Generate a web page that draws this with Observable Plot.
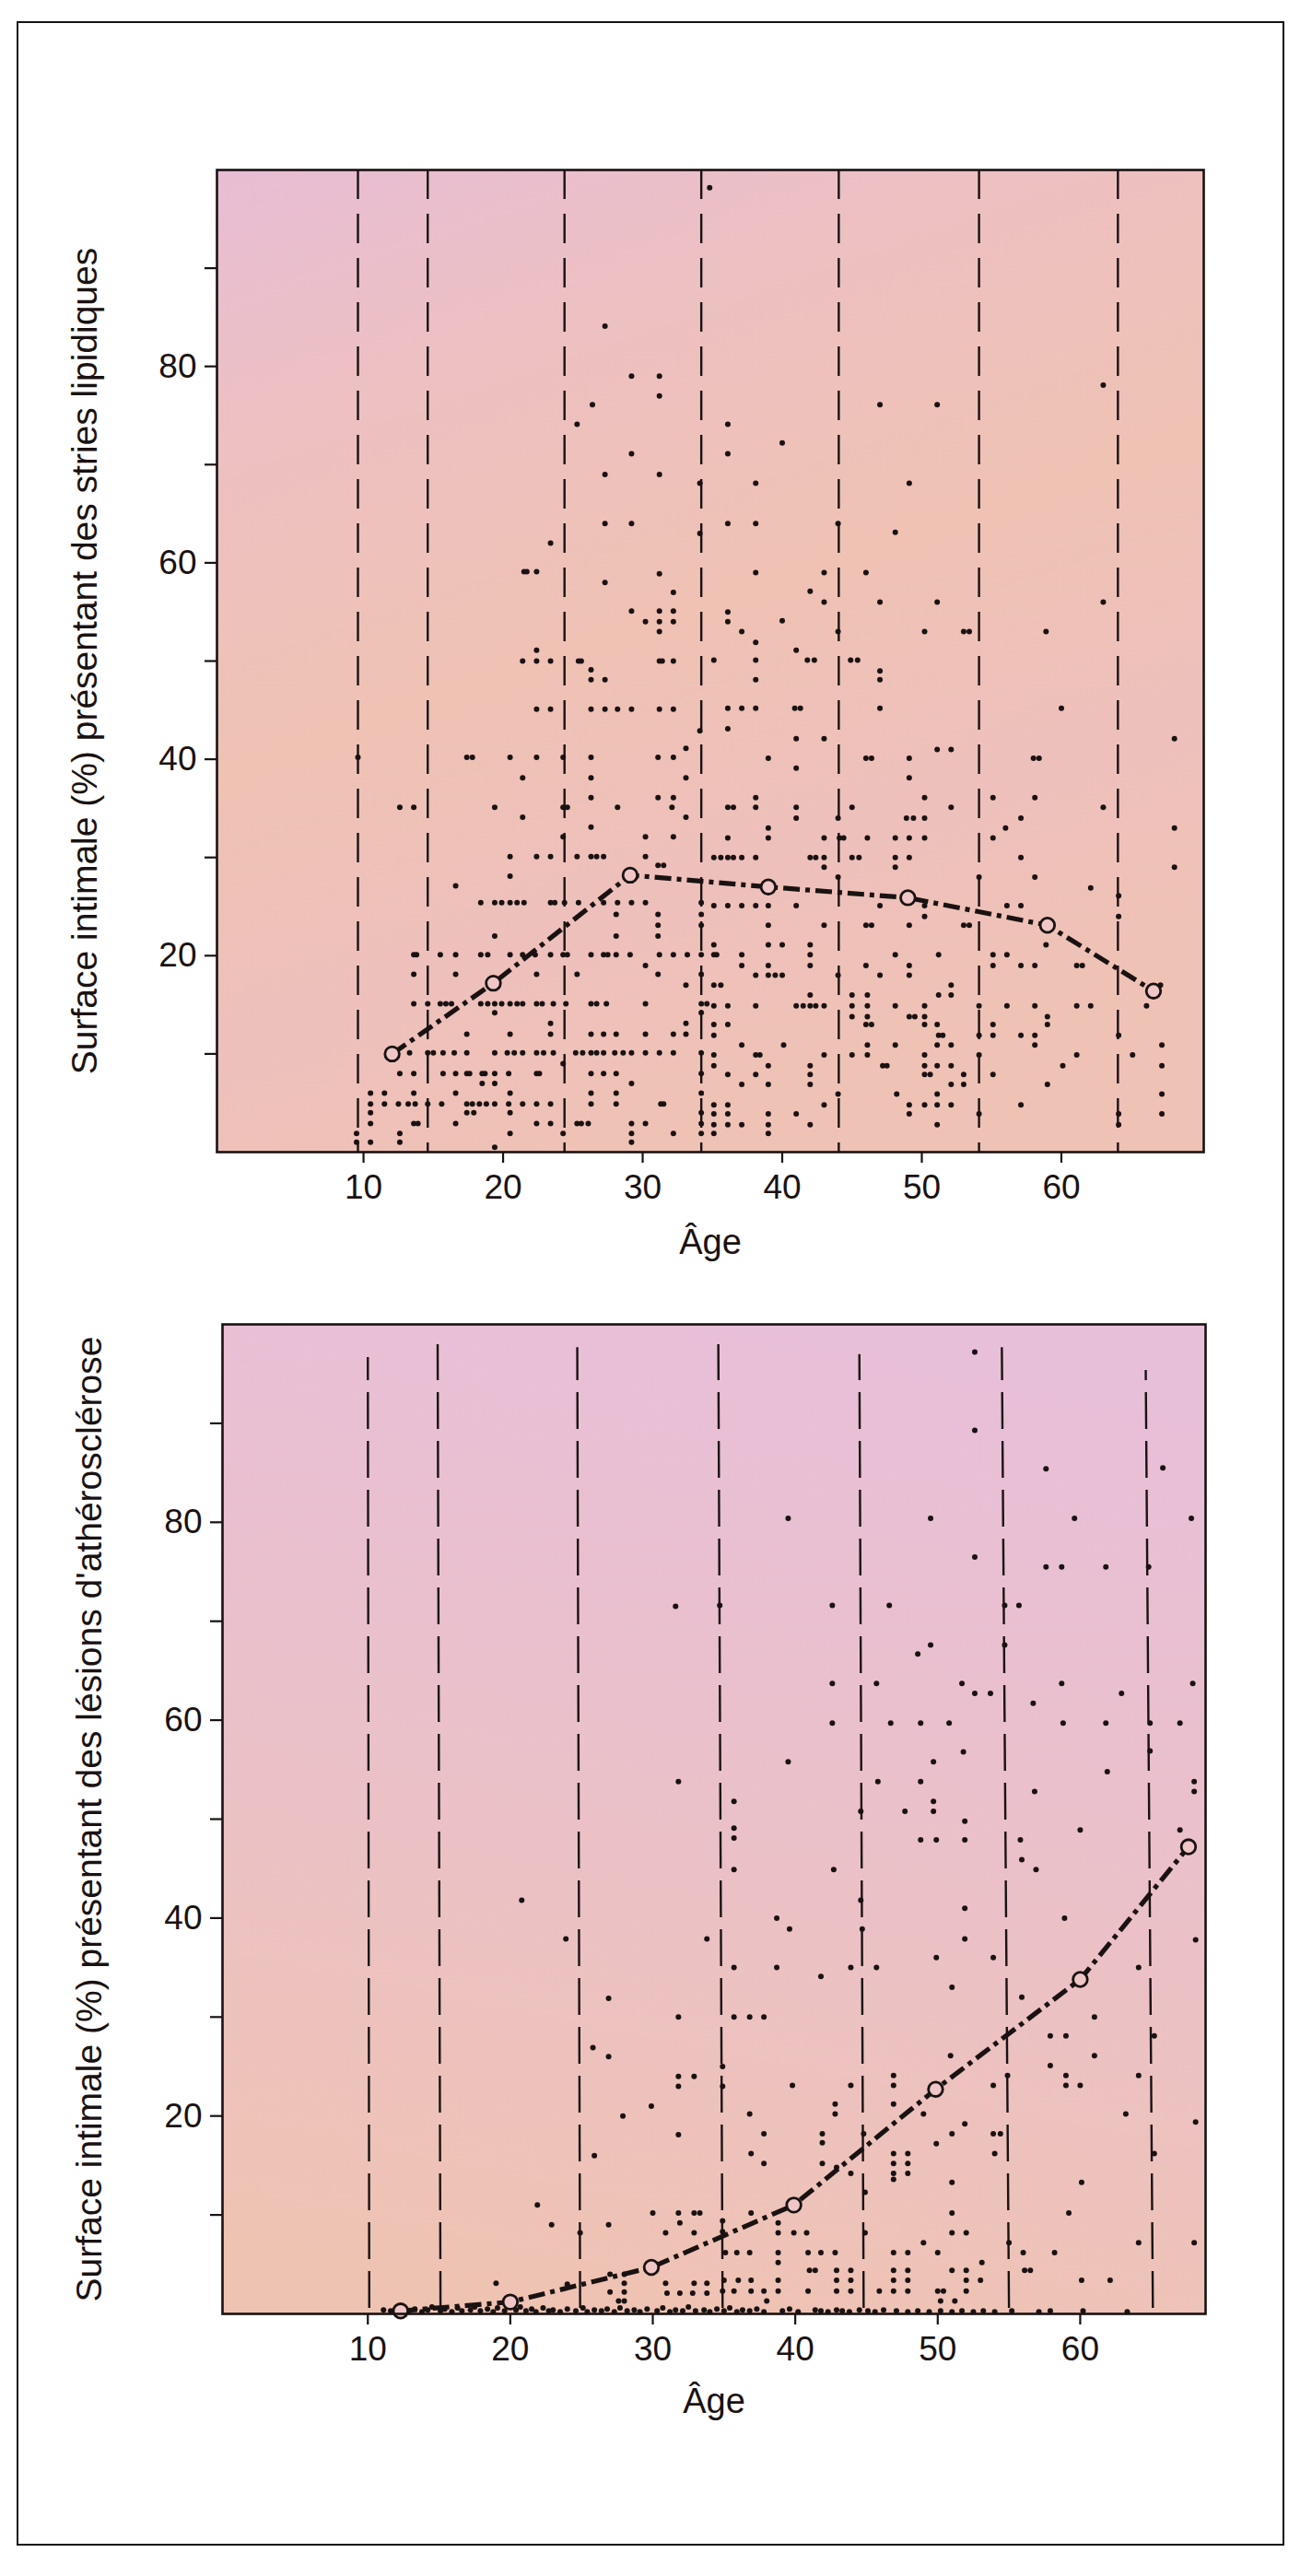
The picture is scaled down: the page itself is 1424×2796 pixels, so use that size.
<!DOCTYPE html>
<html lang="fr">
<head>
<meta charset="utf-8">
<script src="https://cdn.jsdelivr.net/npm/d3@7"></script>
<script src="https://cdn.jsdelivr.net/npm/@observablehq/plot@0.6"></script>
<style>
  html, body { margin: 0; padding: 0; background: #ffffff; }
  #page { position: relative; width: 1424px; height: 2796px; background: #ffffff; }
  #border { position: absolute; left: 18px; top: 23px; width: 1376px; height: 2740px; box-sizing: border-box; border: 2.5px solid #141010; }
  .panel { position: absolute; left: 0; }
</style>
</head>
<body>
<div id="page"><div id="border"></div></div>
<script>
// ---------- DATA ----------
const ageTicks = [10, 20, 30, 40, 50, 60];
const valueTicks = [10, 20, 30, 40, 50, 60, 70, 80, 90];
const labelTop = "Surface intimale (%) présentant des stries lipidiques";
const labelBottom = "Surface intimale (%) présentant des lésions d'athérosclérose";
const labelAge = "Âge";

// group boundaries (dashed verticals)
const topBounds = [9.6, 14.6, 24.4, 34.2, 44.05, 54.1, 64.05];
const bottomBoundsLow = [10.1, 15.1, 24.9, 34.9, 44.8, 55.0, 65.1];
const bottomBoundsHigh = [10.0, 14.9, 24.7, 34.6, 44.5, 54.5, 64.6];
const bottomBoundsTop = [96.7, 98.0, 97.7, 98.0, 97.0, 97.7, 95.4];

// group means (open circles)
const topMeanAge = [12.05, 19.3, 29.1, 39.0, 49.0, 59.0, 66.6];
const topMeanValue = [10.0, 17.2, 28.2, 27.0, 25.9, 23.1, 16.4];
const bottomMeanAge = [12.3, 20.0, 29.9, 39.9, 49.85, 60.0, 67.6];
const bottomMeanValue = [0.3, 1.2, 4.7, 11.0, 22.7, 33.8, 47.2];

// individual cases, stries lipidiques: [age, %]
const topPoints = [
 [34.8,98.2],[27.3,84.1],
 [29.2,79.0],[31.2,79.0],[31.2,77.0],[26.4,76.1],[25.3,74.1],[29.2,71.1],[27.3,69.0],[31.2,69.0],
 [34.1,68.1],[27.3,64.0],[29.2,64.0],[34.1,63.0],[23.4,62.0],[21.5,59.1],[21.7,59.1],[22.4,59.1],
 [31.2,58.9],[27.3,58.0],[32.2,57.0],[29.2,55.1],[31.2,55.1],[32.2,55.1],[30.2,54.0],[31.2,54.0],[32.2,54.0],
 [31.2,53.0],[22.4,51.1],[21.4,50.0],[22.4,50.0],[23.4,50.0],[25.4,50.0],[25.6,50.0],[31.2,50.0],[31.4,50.0],[32.2,50.0],
 [26.3,49.1],[26.3,48.1],[27.3,48.1],
 [22.4,45.1],[23.4,45.1],[26.3,45.1],[27.3,45.1],[28.2,45.1],[29.2,45.1],[31.2,45.1],[32.2,45.1],
 [34.1,42.9],[33.1,41.1],
 [9.6,40.2],[17.4,40.2],[17.8,40.2],[20.5,40.2],[22.4,40.2],[24.3,40.2],[26.3,40.2],[31.1,40.2],[32.2,40.2],
 [21.4,38.1],[26.3,38.1],[33.1,38.1],[26.3,36.1],[31.1,36.1],[32.2,36.1],
 [12.6,35.1],[13.6,35.1],[19.4,35.1],[24.3,35.1],[24.6,35.1],[28.2,35.1],[32.1,35.1],
 [21.4,34.1],[33.1,34.1],[26.3,33.1],
 [24.3,32.1],[30.2,32.1],[32.2,32.1],
 [20.5,30.1],[22.4,30.1],[23.4,30.1],[25.3,30.1],[26.3,30.1],[26.7,30.1],[27.2,30.1],[30.2,30.1],
 [31.1,29.2],[31.5,29.2],[20.5,28.1],[16.6,27.1],
 [18.4,25.4],[19.4,25.4],[19.9,25.4],[20.5,25.4],[21.0,25.4],[21.5,25.4],[23.4,25.4],[23.7,25.4],[24.4,25.4],
 [25.4,25.4],[27.2,25.4],[28.2,25.4],[29.2,25.4],[30.2,25.4],[34.2,25.4],
 [28.1,24.2],[31.1,24.2],[34.2,24.2],[31.1,23.1],[34.2,23.1],[19.4,22.0],[28.1,22.0],[31.1,22.0],
 [13.6,20.1],[13.8,20.1],[15.5,20.1],[16.6,20.1],[18.4,20.1],[18.9,20.1],[20.5,20.1],[21.4,20.1],[22.3,20.1],
 [23.4,20.1],[24.3,20.1],[24.6,20.1],[26.3,20.1],[27.2,20.1],[27.5,20.1],[28.1,20.1],[29.1,20.1],[31.2,20.1],
 [32.2,20.1],[33.2,20.1],[34.2,20.1],
 [30.2,19.0],[13.6,18.1],[16.6,18.1],[22.4,18.1],[25.3,18.1],[31.1,18.1],[34.2,18.1],[33.1,17.0],
 [13.6,15.1],[14.6,15.1],[15.5,15.1],[15.9,15.1],[16.3,15.1],[18.4,15.1],[18.9,15.1],[19.4,15.1],[19.9,15.1],
 [20.5,15.1],[21.0,15.1],[21.4,15.1],[22.4,15.1],[22.8,15.1],[23.6,15.1],[24.5,15.1],[26.3,15.1],[26.7,15.1],
 [27.4,15.1],[30.2,15.1],[34.2,15.1],[34.6,15.1],
 [19.4,14.2],[34.2,14.2],[23.4,13.1],[33.1,13.1],
 [17.4,12.0],[20.5,12.0],[23.4,12.0],[26.3,12.0],[27.2,12.0],[28.1,12.0],[30.2,12.0],[32.2,12.0],[33.1,12.0],
 [13.3,10.1],[14.6,10.1],[15.0,10.1],[15.7,10.1],[16.5,10.1],[17.4,10.1],[19.4,10.1],[20.3,10.1],
 [20.8,10.1],[21.4,10.1],[22.4,10.1],[22.9,10.1],[23.6,10.1],[25.2,10.1],[25.7,10.1],[26.3,10.1],[26.7,10.1],
 [27.2,10.1],[28.0,10.1],[28.6,10.1],[29.2,10.1],[30.2,10.1],[31.2,10.1],[32.2,10.1],[34.2,10.1],
 [24.3,9.0],
 [12.6,8.0],[13.6,8.0],[15.7,8.0],[16.6,8.0],[17.4,8.0],[17.6,8.0],[18.5,8.0],[18.7,8.0],[19.4,8.0],[20.4,8.0],
 [22.4,8.0],[22.6,8.0],[26.3,8.0],[27.2,8.0],[28.1,8.0],[34.2,8.0],
 [18.5,7.0],[19.4,7.0],[29.2,7.0],
 [10.5,6.0],[11.5,6.0],[13.6,6.0],[16.6,6.0],[20.5,6.0],[26.3,6.0],[28.1,6.0],[34.2,6.0],
 [10.5,4.9],[11.5,4.9],[12.5,4.9],[13.2,4.9],[13.7,4.9],[14.6,4.9],[15.6,4.9],[17.4,4.9],[17.8,4.9],[18.3,4.9],
 [18.8,4.9],[19.4,4.9],[20.4,4.9],[21.4,4.9],[22.4,4.9],[23.4,4.9],[26.3,4.9],[28.1,4.9],[31.3,4.9],[31.5,4.9],
 [10.5,4.0],[17.4,4.0],[17.9,4.0],[20.5,4.0],[34.2,4.0],
 [10.5,2.9],[13.6,2.9],[13.9,2.9],[16.6,2.9],[22.4,2.9],[23.4,2.9],[25.3,2.9],[25.6,2.9],[26.1,2.9],[29.2,2.9],
 [30.2,2.9],[34.2,2.9],
 [9.5,1.9],[12.6,1.9],[20.5,1.9],[24.3,1.9],[29.2,1.9],[32.2,1.9],[34.2,1.9],
 [9.5,1.0],[10.5,1.0],[12.6,1.0],[29.2,1.0],[19.4,0.5],
 // ages 35-70
 [63.0,78.1],[47.0,76.1],[51.1,76.1],[36.1,74.1],[40.0,72.2],[36.1,71.1],[38.1,68.1],[49.1,68.1],
 [36.1,64.0],[38.1,64.0],[44.0,64.0],[48.1,63.1],[38.1,59.0],[43.0,59.0],[46.0,59.0],[42.0,57.1],
 [43.0,56.0],[47.0,56.0],[51.1,56.0],[63.0,56.0],[36.1,55.0],[36.1,54.0],[40.0,54.1],
 [37.1,53.0],[44.0,53.0],[50.2,53.0],[53.0,53.0],[53.4,53.0],[58.9,53.0],[38.1,51.9],[41.0,51.1],
 [35.1,50.1],[38.1,50.1],[41.8,50.1],[42.3,50.1],[44.9,50.1],[45.4,50.1],[47.0,49.0],[38.1,48.1],[47.0,48.1],
 [36.1,45.2],[37.1,45.2],[38.1,45.2],[40.9,45.2],[41.3,45.2],[47.0,45.2],[60.0,45.2],[36.1,43.1],
 [41.0,42.1],[43.0,42.1],[68.1,42.1],[51.1,41.0],[52.1,41.0],
 [39.0,40.1],[46.0,40.1],[46.4,40.1],[49.1,40.1],[58.0,40.1],[58.4,40.1],[41.0,39.1],[49.1,38.1],
 [38.1,36.1],[50.2,36.1],[55.1,36.1],[58.1,36.1],
 [36.1,35.1],[36.5,35.1],[38.1,35.1],[41.0,35.1],[45.0,35.1],[52.1,35.1],[63.0,35.1],
 [41.0,34.0],[44.0,34.0],[48.9,34.0],[49.4,34.0],[50.2,34.0],[57.1,34.0],[39.0,33.0],[56.0,33.0],[68.1,33.0],
 [36.1,32.0],[39.0,32.0],[43.0,32.0],[44.1,32.0],[44.4,32.0],[46.1,32.0],[48.1,32.0],[49.1,32.0],[50.2,32.0],[55.1,32.0],
 [35.1,30.0],[35.6,30.0],[36.1,30.0],[36.5,30.0],[37.1,30.0],[38.1,30.0],[42.0,30.0],[42.4,30.0],[43.0,30.0],
 [45.0,30.0],[45.5,30.0],[48.1,30.0],[49.1,30.0],[57.1,30.0],
 [43.0,29.0],[48.1,29.0],[68.1,29.0],[44.0,28.0],[54.1,28.0],[58.1,28.0],[62.1,26.9],[64.1,26.1],
 [35.1,25.1],[36.1,25.1],[37.1,25.1],[38.1,25.1],[39.0,25.1],[41.0,25.1],[47.0,25.1],[50.2,25.1],[56.1,25.1],[57.1,25.1],
 [50.2,24.0],[64.1,24.0],
 [39.0,23.1],[43.0,23.1],[46.0,23.1],[46.4,23.1],[49.1,23.1],[53.0,23.1],[53.4,23.1],
 [35.1,21.1],[39.0,21.1],[40.0,21.1],[42.0,21.1],[58.9,21.1],
 [35.1,20.1],[35.3,20.1],[37.1,20.1],[42.0,20.1],[48.1,20.1],[51.2,20.1],[55.1,20.1],[56.1,20.1],
 [37.1,19.0],[39.0,19.0],[42.0,19.0],[46.0,19.0],[49.1,19.0],[55.1,19.0],[57.1,19.0],[58.1,19.0],[61.1,19.0],[61.5,19.0],
 [38.1,18.0],[39.0,18.0],[39.5,18.0],[40.0,18.0],[44.0,18.0],[47.0,18.0],[49.1,18.0],
 [35.1,17.0],[35.6,17.0],[52.1,17.0],[67.1,17.0],[42.0,16.0],[45.0,16.0],[46.1,16.0],[51.2,16.0],[52.1,16.0],
 [35.1,14.9],[36.1,14.9],[38.1,14.9],[41.0,14.9],[41.5,14.9],[42.0,14.9],[42.4,14.9],[43.0,14.9],[45.0,14.9],
 [46.1,14.9],[48.1,14.9],[50.2,14.9],[54.1,14.9],[56.1,14.9],[58.1,14.9],[61.1,14.9],[62.1,14.9],[66.1,14.9],
 [45.0,13.8],[46.1,13.8],[49.1,13.8],[49.5,13.8],[50.2,13.8],[59.0,13.8],
 [35.1,13.0],[36.1,13.0],[46.0,13.0],[46.4,13.0],[50.2,13.0],[51.1,13.0],[55.1,13.0],[59.0,13.0],
 [35.1,11.9],[51.2,11.9],[51.5,11.9],[54.1,11.9],[55.1,11.9],[57.1,11.9],[58.1,11.9],[64.1,11.9],
 [37.1,10.9],[40.1,10.9],[46.1,10.9],[48.1,10.9],[51.1,10.9],[52.1,10.9],[58.1,10.9],[67.2,10.9],
 [35.1,9.9],[38.1,9.9],[38.4,9.9],[43.0,9.9],[45.0,9.9],[46.1,9.9],[50.2,9.9],[54.1,9.9],[61.1,9.9],[65.1,9.9],
 [35.1,8.8],[39.0,8.8],[42.0,8.8],[47.2,8.8],[47.5,8.8],[50.2,8.8],[51.1,8.8],[52.1,8.8],[60.1,8.8],[67.2,8.8],
 [36.1,7.9],[38.1,7.9],[42.0,7.9],[50.2,7.9],[50.6,7.9],[53.0,7.9],[55.1,7.9],
 [37.1,6.9],[39.0,6.9],[42.0,6.9],[52.1,6.9],[53.0,6.9],[59.0,6.9],
 [44.0,5.9],[48.2,5.9],[51.1,5.9],[67.2,5.9],
 [35.1,4.8],[36.1,4.8],[43.0,4.8],[49.1,4.8],[50.2,4.8],[51.1,4.8],[52.1,4.8],[57.1,4.8],
 [35.1,3.9],[36.1,3.9],[39.0,3.9],[41.0,3.9],[49.1,3.9],[54.1,3.9],[64.1,3.9],[67.2,3.9],
 [35.1,2.8],[36.1,2.8],[37.1,2.8],[39.0,2.8],[42.0,2.8],[51.1,2.8],[64.1,2.8],[35.1,1.9],[39.0,1.9]
];

// individual cases, lésions d'athérosclérose: [age, %]
const bottomPoints = [
 [31.6,71.5],[31.8,53.8],[20.8,41.8],[23.9,37.9],[33.8,37.9],[26.9,31.9],[31.8,30.0],[25.8,26.9],[26.9,26.0],
 [31.8,24.0],[32.9,24.0],[31.8,23.0],[29.9,21.0],[27.9,20.0],[31.8,18.1],[25.9,16.0],[21.9,11.0],
 [22.9,9.0],[26.9,9.0],[24.9,8.2],[30.0,10.2],[31.8,10.2],[32.9,10.2],[33.3,10.2],[30.9,8.2],[31.9,9.2],[32.9,8.2],
 [27.0,4.0],[28.0,4.0],[28.0,3.1],[19.0,3.1],[24.0,3.0],[30.9,3.1],[32.9,3.1],[33.8,3.1],
 [27.0,2.2],[28.0,2.2],[31.0,2.1],[31.9,2.1],[32.8,2.1],[33.8,2.1],[27.6,1.3],[28.0,1.3],
 [52.6,97.2],[52.6,89.3],[57.6,85.4],[65.8,85.5],[39.5,80.4],[49.5,80.4],[59.6,80.4],[67.8,80.4],[52.6,76.5],
 [57.6,75.5],[58.7,75.5],[61.8,75.5],[64.8,75.5],
 [34.7,71.6],[42.6,71.6],[46.6,71.6],[54.7,71.6],[55.7,71.6],[54.7,67.6],[48.6,66.7],[49.5,67.6],
 [42.6,63.7],[45.7,63.7],[51.7,63.7],[52.6,62.7],[53.7,62.7],[58.7,63.7],[62.9,62.7],[67.9,63.7],[56.7,61.7],
 [42.6,59.7],[46.7,59.7],[48.8,59.7],[50.8,59.7],[58.8,59.7],[61.8,59.7],[64.9,59.7],[67.0,59.7],
 [49.7,55.8],[51.8,56.8],[39.5,55.8],[64.9,56.9],[61.9,54.8],[68.0,53.8],[68.0,52.8],[45.8,53.8],[48.8,53.8],
 [35.7,51.8],[44.6,50.8],[47.7,50.8],[49.7,51.8],[49.7,50.8],[56.8,52.8],
 [35.7,49.1],[35.7,48.1],[51.9,49.8],[48.8,47.9],[49.9,47.9],[51.9,47.9],[60.0,48.9],[67.0,48.9],
 [35.7,44.9],[42.7,44.9],[55.8,47.9],[55.9,45.9],[56.9,44.9],[44.6,41.8],
 [38.7,40.0],[39.6,38.9],[58.9,40.0],[51.9,41.0],[51.9,37.9],[44.7,38.9],[68.1,37.8],
 [35.7,35.0],[38.7,35.0],[41.8,34.1],[43.9,35.0],[45.7,35.0],[49.9,36.0],[53.9,36.0],[64.1,35.0],
 [35.7,30.0],[36.8,30.0],[37.8,30.0],[51.0,33.0],[55.9,32.0],
 [61.0,30.0],[57.9,28.1],[59.0,28.1],[57.9,25.1],[59.0,24.1],[59.0,23.1],[60.0,23.1],[61.0,26.1],
 [34.9,25.0],[34.9,23.0],[39.8,23.1],[43.9,23.1],[46.9,24.1],[46.9,23.1],[46.9,21.2],[50.9,26.1],[53.9,23.1],
 [54.9,24.1],[64.1,24.1],[65.2,28.1],[68.1,19.4],
 [36.8,20.2],[42.8,21.2],[42.8,20.2],[49.0,20.2],[51.9,19.2],[53.9,18.2],[54.4,18.2],[63.2,20.2],
 [37.8,18.2],[41.9,18.2],[41.9,17.3],[44.8,18.2],[44.9,12.3],
 [36.9,16.2],[37.8,15.2],[41.9,15.2],[42.9,14.8],[43.9,14.2],
 [46.9,16.2],[47.9,16.2],[46.9,15.2],[47.9,15.2],[46.9,14.2],[47.9,14.2],[46.9,13.6],
 [51.0,18.2],[49.9,17.2],[51.0,13.3],[54.0,16.2],[60.1,13.3],[65.2,16.2],[59.2,10.2],[51.0,10.2],
 [34.9,9.4],[34.9,8.3],[36.9,10.2],[38.8,9.2],[38.8,8.2],[39.9,8.2],[40.8,8.2],[51.0,8.2],[52.0,8.2],[44.9,8.2],
 [49.0,7.2],[55.0,7.2],[64.1,7.2],[68.0,7.2],
 [35.1,6.2],[35.9,6.2],[36.8,6.2],[38.8,6.2],[40.9,6.2],[41.8,6.2],[42.8,6.2],[46.9,6.2],[47.9,6.2],[50.0,6.2],[56.0,6.2],[58.2,6.2],
 [38.8,5.2],[53.1,5.2],
 [41.0,4.4],[41.4,4.4],[42.9,4.4],[43.9,4.4],[46.9,4.4],[47.9,4.4],[51.0,4.4],[52.0,4.4],[56.1,4.4],[56.5,4.4],
 [35.0,3.4],[36.0,3.4],[36.9,3.4],[38.8,3.4],[42.9,3.4],[43.9,3.4],[46.9,3.4],[47.9,3.4],[53.0,3.4],[52.0,3.4],[60.1,3.4],[62.1,3.4],
 [34.9,2.3],[35.7,2.3],[36.9,2.3],[37.8,2.3],[38.8,2.3],[40.9,2.3],[42.9,2.3],[43.9,2.3],[45.9,2.3],[46.9,2.3],
 [47.9,2.3],[50.0,2.3],[50.4,2.3],[52.0,2.3],[38.0,1.3],[50.2,1.3],[51.2,1.3]
];

// cases with (almost) no lesion: the band along 0
const bottomZeroRow = [
 [11.1,0.4],[11.6,0.3],[12.0,0.6],[12.9,0.3],[13.3,0.5],[13.8,0.2],[14.2,0.4],[14.5,0.7],[15.1,0.3],[15.4,0.5],
 [15.9,0.2],[16.3,0.6],[16.6,0.3],[17.2,0.4],[17.5,0.7],[17.9,0.3],[18.4,0.5],[18.8,0.2],[19.1,0.6],[19.6,0.3],
 [20.4,0.4],[20.7,0.7],[21.1,0.3],[21.5,0.5],[21.8,0.2],[22.3,0.6],[22.7,0.3],[23.0,0.4],[23.5,0.2],[24.0,0.5],
 [24.6,0.3],[25.1,0.6],[25.4,0.2],[25.9,0.4],[26.4,0.3],[26.8,0.5],[27.3,0.2],[27.7,0.6],[28.2,0.3],[28.7,0.4],
 [29.1,0.2],[29.6,0.5],[30.3,0.3],[30.7,0.6],[31.2,0.2],[31.6,0.4],[32.1,0.3],[32.5,0.7],[33.0,0.3],[33.6,0.4],
 [34.0,0.2],[34.5,0.5],[35.0,0.3],[35.4,0.6],[35.9,0.2],[36.3,0.4],[36.8,0.3],[37.3,0.5],[37.8,0.2],
 [39.1,0.3],[39.6,0.5],[40.2,0.2],[41.4,0.4],[41.8,0.3],[42.3,0.2],[42.9,0.4],[43.3,0.3],[43.8,0.2],[44.5,0.4],
 [45.1,0.3],[45.6,0.2],[46.2,0.4],[47.1,0.3],[47.9,0.2],[48.6,0.3],[49.4,0.2],[50.2,0.3],[51.0,0.2],[51.7,0.3],
 [52.5,0.2],[53.2,0.3],[54.0,0.2],[55.2,0.3],[57.1,0.2],[57.9,0.3],[60.2,0.3],[63.3,0.2]
];

// ---------- DRAWING ----------
const INK = "#1a1212";
const ns = "http://www.w3.org/2000/svg";
function addGradient(svg, id, coords, stops) {
  const defs = document.createElementNS(ns, "defs");
  const g = document.createElementNS(ns, "linearGradient");
  g.setAttribute("id", id);
  for (const [k, v] of Object.entries(coords)) g.setAttribute(k, v);
  for (const [o, c] of stops) {
    const s = document.createElementNS(ns, "stop");
    s.setAttribute("offset", o);
    s.setAttribute("stop-color", c);
    g.appendChild(s);
  }
  defs.appendChild(g);
  svg.insertBefore(defs, svg.firstChild);
}

const svgStyle = "font-family: 'Liberation Sans', Arial, Helvetica, sans-serif; font-size: 37px; background: transparent; max-width: none; overflow: visible; color: #1a1212;";

function panel({top, height, marginTop, marginBottom, marginLeft, marginRight, xDomain, points, meanAge, meanValue, boundsMarks, yLabel, yLabelDx, ageDy, gradId}) {
  const meanData = meanAge.map((a, i) => ({age: a, value: meanValue[i]}));
  const svg = Plot.plot({
    width: 1424,
    height,
    marginTop, marginBottom, marginLeft, marginRight,
    style: svgStyle,
    x: {domain: xDomain},
    y: {domain: [0, 100]},
    marks: [
      Plot.frame({fill: `url(#${gradId})`, stroke: "none"}),
      ...boundsMarks,
      Plot.dot(points, {x: d => d[0], y: d => d[1], r: 3.0, fill: INK, stroke: "none"}),
      Plot.line(meanData, {x: "age", y: "value", stroke: INK, strokeWidth: 5.2, strokeDasharray: "18,6,5,6", strokeLinecap: "butt"}),
      Plot.dot(meanData, {x: "age", y: "value", r: 7.8, fill: "#f0c6c6", stroke: INK, strokeWidth: 2.8}),
      Plot.frame({stroke: INK, strokeWidth: 2.6}),
      Plot.axisX({ticks: ageTicks, tickSize: 12, tickPadding: 12, strokeWidth: 2.2, label: null, tickFormat: d => String(d)}),
      Plot.axisY({ticks: valueTicks, tickSize: 13, tickPadding: 9, strokeWidth: 2.2, label: null, tickFormat: d => (d % 20 === 0 ? String(d) : "")}),
      Plot.text([yLabel], {text: d => d, frameAnchor: "left", dx: yLabelDx, rotate: -90, textAnchor: "middle", lineAnchor: "middle", fontSize: 39, fill: INK}),
      Plot.text([labelAge], {text: d => d, frameAnchor: "bottom", dy: ageDy, textAnchor: "middle", lineAnchor: "middle", fontSize: 38, fill: INK})
    ]
  });
  svg.classList.add("panel");
  svg.style.top = top + "px";
  svg.style.position = "absolute";
  svg.style.left = "0px";
  return svg;
}

const topSvg = panel({
  top: 120, height: 1300, marginTop: 64, marginBottom: 170, marginLeft: 235, marginRight: 118,
  xDomain: [-0.5, 70.2], points: topPoints, meanAge: topMeanAge, meanValue: topMeanValue,
  boundsMarks: [Plot.ruleX(topBounds, {stroke: INK, strokeWidth: 2.4, strokeDasharray: "32,16"})],
  yLabel: labelTop, yLabelDx: -143, ageDy: 98, gradId: "bgTop"
});
addGradient(topSvg, "bgTop", {x1: "0", y1: "0", x2: "0.35", y2: "1"},
  [["0", "#e8bdd4"], ["0.25", "#edc0c2"], ["0.55", "#efc2b4"], ["0.8", "#eec0bc"], ["1", "#efc2b6"]]);

const bottomBounds = bottomBoundsLow.map((x, i) => ({x1: x, x2: bottomBoundsHigh[i], y2: bottomBoundsTop[i]}));
const bottomSvg = panel({
  top: 1420, height: 1320, marginTop: 17, marginBottom: 229, marginLeft: 241, marginRight: 116,
  xDomain: [-0.2, 68.8], points: bottomPoints.concat(bottomZeroRow), meanAge: bottomMeanAge, meanValue: bottomMeanValue,
  boundsMarks: [Plot.link(bottomBounds, {x1: "x1", y1: 0.6, x2: "x2", y2: "y2", stroke: INK, strokeWidth: 2.4, strokeDasharray: "40,13"})],
  yLabel: labelBottom, yLabelDx: -144, ageDy: 95, gradId: "bgBottom"
});
addGradient(bottomSvg, "bgBottom", {x1: "0.55", y1: "0", x2: "0.35", y2: "1"},
  [["0", "#e8bfd8"], ["0.4", "#eac0cc"], ["0.75", "#edc2bd"], ["1", "#efc3b2"]]);

const page = document.getElementById("page");
page.appendChild(topSvg);
page.appendChild(bottomSvg);
</script>
</body>
</html>
